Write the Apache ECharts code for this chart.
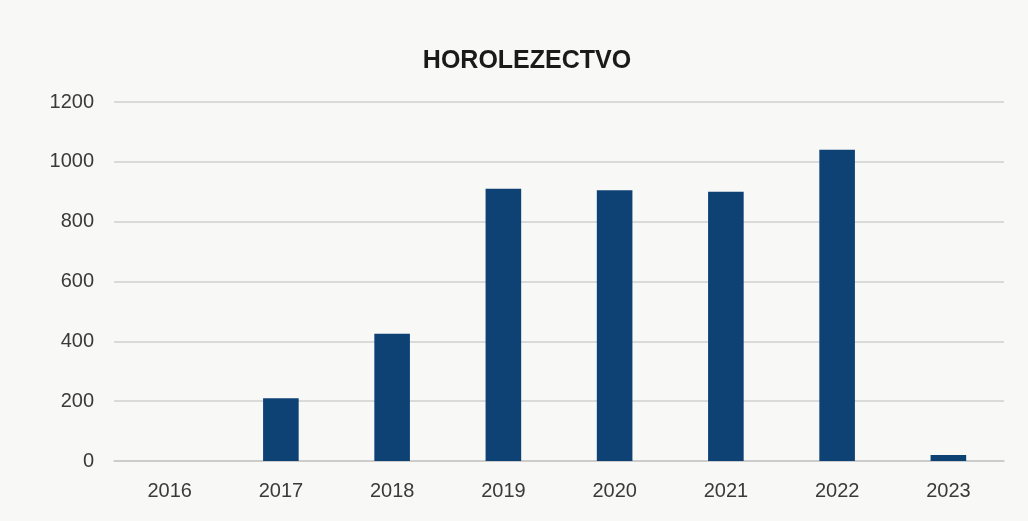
<!DOCTYPE html>
<html>
<head>
<meta charset="utf-8">
<script src="https://cdn.jsdelivr.net/npm/echarts@6/dist/echarts.min.js"></script>
<style>
html,body{margin:0;padding:0;background:#f8f8f6;}
#chart{width:1028px;height:521px;}
</style>
</head>
<body>
<div id="chart"></div>
<script>
const titleText = "HOROLEZECTVO";
const categories = ["2016","2017","2018","2019","2020","2021","2022","2023"];
const values = [0, 210, 425, 910, 905, 900, 1040, 20];
const yTicks = [0, 200, 400, 600, 800, 1000, 1200];

const chart = echarts.init(document.getElementById('chart'));
chart.setOption({
  backgroundColor: '#f8f8f6',
  animation: false,
  title: {
    text: titleText,
    left: 522,
    top: 44,
    textAlign: 'center',
    textStyle: {fontFamily: 'Liberation Sans, Arial, sans-serif', fontSize: 25, fontWeight: 'bold', color: '#1a1a1a'}
  },
  grid: {left: 114, right: 24, top: 102, bottom: 60, containLabel: false},
  xAxis: {
    type: 'category',
    data: categories,
    axisLine: {show: true, lineStyle: {color: '#c8c8c8', width: 1.5}},
    axisTick: {show: false},
    axisLabel: {margin: 20, fontFamily: 'Liberation Sans, Arial, sans-serif', fontSize: 20, color: '#3a3a3a'}
  },
  yAxis: {
    type: 'value',
    min: yTicks[0],
    max: yTicks[yTicks.length - 1],
    interval: 200,
    axisLine: {show: false},
    axisTick: {show: false},
    splitLine: {lineStyle: {color: '#d0d0d0', width: 1.5}},
    axisLabel: {
      margin: 20,
      formatter: function (v) { return String(v); },
      fontFamily: 'Liberation Sans, Arial, sans-serif', fontSize: 20, color: '#3a3a3a'
    }
  },
  series: [{
    type: 'bar',
    data: values,
    barWidth: '32%',
    itemStyle: {color: '#0e4275'}
  }]
});
</script>
</body>
</html>
